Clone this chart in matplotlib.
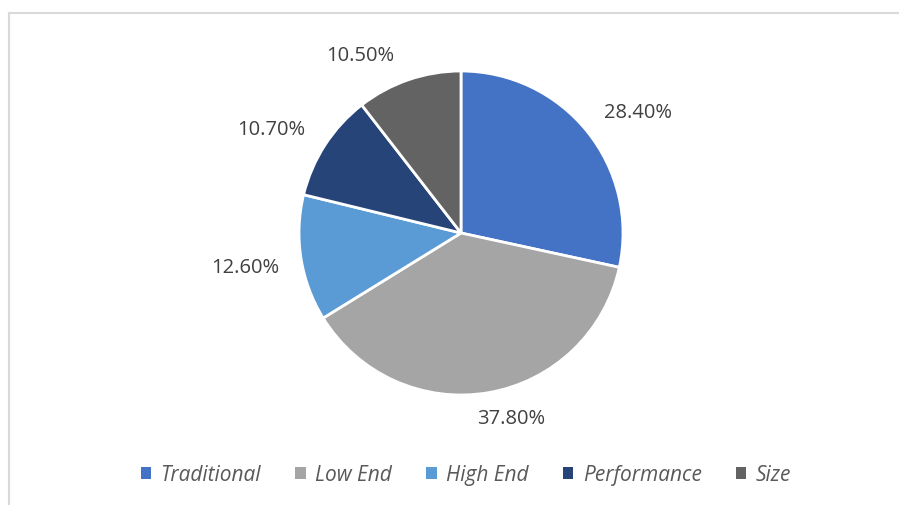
import matplotlib
matplotlib.use('Agg')
import matplotlib.pyplot as plt
from matplotlib.lines import Line2D
from matplotlib.patches import Patch

plt.rcParams['font.family'] = ['Open Sans', 'DejaVu Sans']

segments = ["Traditional", "Low End", "High End", "Performance", "Size"]
shares = [28.4, 37.8, 12.6, 10.7, 10.5]
colors = ["#4472C4", "#A5A5A5", "#5B9BD5", "#264478", "#636363"]
# label anchor points (pie radius = 1)
label_xy = [(1.09, 0.75), (0.31, -1.14), (-1.33, -0.21), (-1.17, 0.64), (-0.62, 1.10)]

W, H = 899, 506
fig = plt.figure(figsize=(W / 100, H / 100), dpi=100)

cx, cy, r = 461, 234, 162
ax = fig.add_axes([(cx - r) / W, (H - cy - r) / H, 2 * r / W, 2 * r / H])
wedges, _ = ax.pie(shares, colors=colors, startangle=90, counterclock=False,
                   wedgeprops=dict(edgecolor='white', linewidth=2))
ax.set_xlim(-1, 1)
ax.set_ylim(-1, 1)
ax.set_aspect('equal')

for val, (x, y) in zip(shares, label_xy):
    ax.text(x, y, f"{val:.2f}%", ha='center', va='center', fontsize=14.5,
            color='#404040', clip_on=False)

handles = [Patch(facecolor=c, edgecolor='none') for c in colors]
leg = fig.legend(handles, segments, loc='center', bbox_to_anchor=(466 / W, 1 - 476 / H),
                 ncol=5, frameon=False, handlelength=0.5, handleheight=0.5,
                 handletextpad=0.45, columnspacing=1.65,
                 prop=dict(style='italic', size=15))
for t in leg.get_texts():
    t.set_color('#595959')

# chart frame edges
fig.add_artist(Line2D([8.5 / W, 1], [1 - 13.5 / H] * 2, color='#D9D9D9', lw=1.5))
fig.add_artist(Line2D([8.5 / W] * 2, [0, 1 - 13.5 / H], color='#D9D9D9', lw=1.5))

fig.savefig('out.png', dpi=100, facecolor='white')
